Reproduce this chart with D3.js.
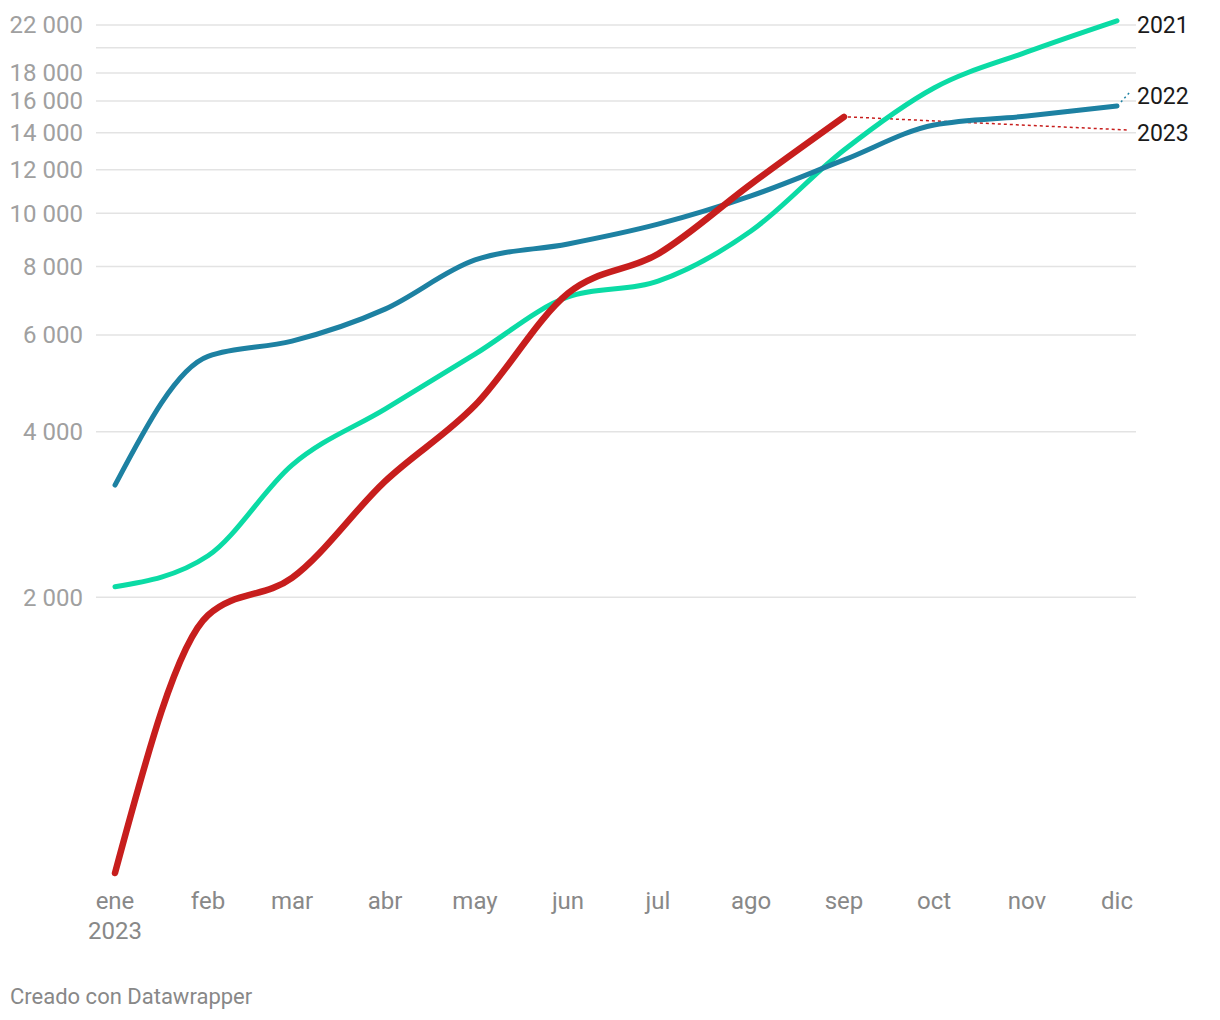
<!DOCTYPE html>
<html>
<head>
<meta charset="utf-8">
<script src="https://cdn.jsdelivr.net/npm/d3@7"></script>
<style>
  body { margin: 0; background: #fff; font-family: Roboto, "Noto Sans", sans-serif; }
  .tick text { fill: #a0a0a0; }
</style>
</head>
<body>
<div id="chart"></div>
<script>
// months of 2023 (first day of each month)
const months = ["ene", "feb", "mar", "abr", "may", "jun", "jul", "ago", "sep", "oct", "nov", "dic"];

const values2021 = [2090, 2380, 3480, 4400, 5540, 7040, 7520, 9280, 13030, 16900, 19650, 22390];
const values2022 = [3200, 5490, 5850, 6690, 8220, 8790, 9550, 10750, 12500, 14470, 15020, 15670];
const values2023 = [630, 1855, 2170, 3250, 4470, 7150, 8430, 11300, 14970];

const yTicks = [2000, 4000, 6000, 8000, 10000, 12000, 14000, 16000, 18000, 20000, 22000];
const yTickLabels = ["2 000", "4 000", "6 000", "8 000", "10 000", "12 000", "14 000", "16 000", "18 000", "", "22 000"];

const seriesNames = ["2021", "2022", "2023"];
const seriesColors = ["#0bdba5", "#1d81a2", "#c71e1d"];

const width = 1220, height = 1020;
const margin = { left: 96, right: 84, top: 25, bottom: 147 };

const svg = d3.select("#chart").append("svg")
    .attr("width", width)
    .attr("height", height);

const dates = months.map((m, i) => new Date(2023, i, 1));

const x = d3.scaleTime()
    .domain([dates[0], dates[11]])
    .range([115, 1117]);

const y = d3.scaleLog()
    .domain([630, 22000])
    .range([height - margin.bottom, margin.top]);

// grid
const grid = svg.append("g").attr("class", "tick");
grid.selectAll("line")
    .data(yTicks)
    .enter().append("line")
    .attr("x1", margin.left)
    .attr("x2", width - margin.right)
    .attr("y1", d => y(d))
    .attr("y2", d => y(d))
    .attr("stroke", "#e3e3e3")
    .attr("stroke-width", 1.5);

grid.selectAll("text")
    .data(yTicks)
    .enter().append("text")
    .attr("x", 83)
    .attr("y", d => y(d))
    .attr("dy", "0.35em")
    .attr("text-anchor", "end")
    .style("font-size", "24px")
    .text((d, i) => yTickLabels[i]);

// x axis labels
const xAxis = svg.append("g");
xAxis.selectAll("text")
    .data(dates)
    .enter().append("text")
    .attr("x", d => x(d))
    .attr("y", 909)
    .attr("text-anchor", "middle")
    .attr("fill", "#888")
    .style("font-size", "24px")
    .text((d, i) => months[i]);

xAxis.append("text")
    .attr("x", x(dates[0]))
    .attr("y", 939)
    .attr("text-anchor", "middle")
    .attr("fill", "#888")
    .style("font-size", "24px")
    .text("2023");

// lines
const line = d3.line()
    .x(d => x(d.date))
    .y(d => y(d.value))
    .curve(d3.curveMonotoneX);

const allSeries = [values2021, values2022, values2023].map((vals, i) => ({
    name: seriesNames[i],
    color: seriesColors[i],
    points: vals.map((v, j) => ({ date: dates[j], value: v }))
}));

// dotted connectors to labels
const labelY = { "2021": 25, "2022": 96, "2023": 133 };
const last = s => s.points[s.points.length - 1];

svg.append("line")
    .attr("x1", x(last(allSeries[2]).date) + 4)
    .attr("y1", y(last(allSeries[2]).value))
    .attr("x2", 1128)
    .attr("y2", 130)
    .attr("stroke", seriesColors[2])
    .attr("stroke-width", 1.5)
    .attr("stroke-dasharray", "3,3");

svg.append("line")
    .attr("x1", x(last(allSeries[1]).date) + 4)
    .attr("y1", y(last(allSeries[1]).value) - 4)
    .attr("x2", 1131)
    .attr("y2", 91)
    .attr("stroke", seriesColors[1])
    .attr("stroke-width", 1.5)
    .attr("stroke-dasharray", "2,3");

svg.selectAll("path.series")
    .data(allSeries)
    .enter().append("path")
    .attr("class", "series")
    .attr("d", d => line(d.points))
    .attr("fill", "none")
    .attr("stroke", d => d.color)
    .attr("stroke-width", d => d.name === "2023" ? 6.5 : 5)
    .attr("stroke-linecap", "round")
    .attr("stroke-linejoin", "round");

// series labels
svg.selectAll("text.label")
    .data(allSeries)
    .enter().append("text")
    .attr("class", "label")
    .attr("x", 1137)
    .attr("y", d => labelY[d.name])
    .attr("dy", "0.35em")
    .attr("fill", "#1a1a1a")
    .style("font-size", "23px")
    .text(d => d.name);

// footer
svg.append("text")
    .attr("x", 10)
    .attr("y", 1004)
    .attr("fill", "#888")
    .style("font-size", "22px")
    .text("Creado con Datawrapper");
</script>
</body>
</html>
